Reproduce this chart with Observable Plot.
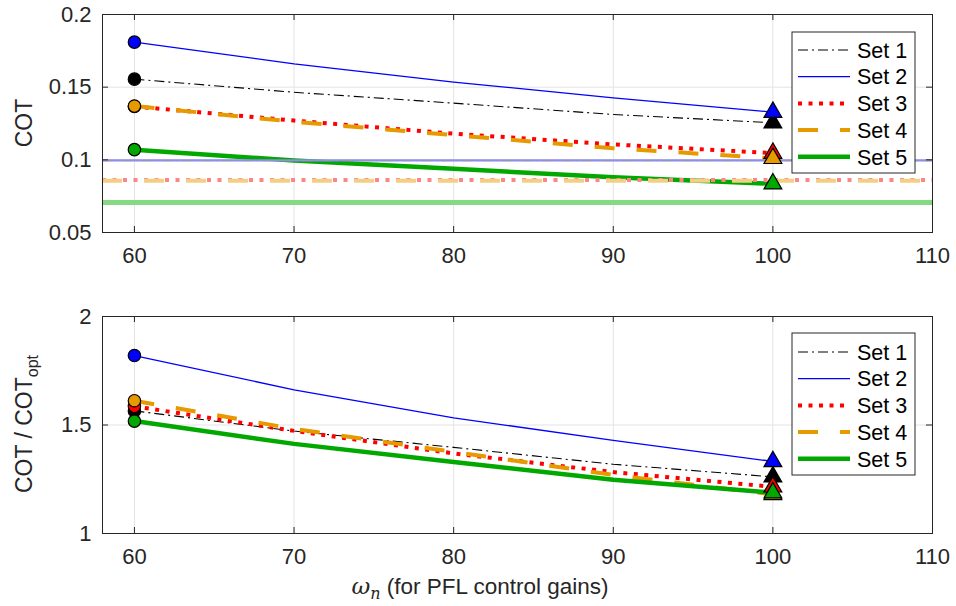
<!DOCTYPE html>
<html><head><meta charset="utf-8">
<script src="https://cdn.jsdelivr.net/npm/d3@7"></script>
<script src="https://cdn.jsdelivr.net/npm/@observablehq/plot@0.6"></script>
<style>
body{margin:0;background:#fff;}
#wrap{position:relative;width:956px;height:606px;font-family:"Liberation Sans",Arial,sans-serif;overflow:hidden;}
#wrap svg{position:absolute;left:0;}
</style></head><body><div id="wrap"></div>
<script>
// ---------- data ----------
const omega = [60, 70, 80, 90, 100];
const seriesNames = ["Set 1", "Set 2", "Set 3", "Set 4", "Set 5"];
const cotSet1 = [0.1555, 0.1465, 0.139, 0.1312, 0.1255];
const cotSet2 = [0.181, 0.166, 0.1535, 0.1427, 0.1328];
const cotSet3 = [0.1367, 0.127, 0.118, 0.1106, 0.1046];
const cotSet4 = [0.137, 0.1262, 0.117, 0.108, 0.101];
const cotSet5 = [0.107, 0.0995, 0.0938, 0.088, 0.0835];
const cotOpt = [0.0994, 0.0996, 0.0862, 0.0856, 0.0706];
const ratioSet1 = [1.565, 1.472, 1.397, 1.319, 1.261];
const ratioSet2 = [1.82, 1.662, 1.533, 1.429, 1.332];
const ratioSet3 = [1.586, 1.473, 1.369, 1.283, 1.215];
const ratioSet4 = [1.612, 1.482, 1.376, 1.27, 1.18];
const ratioSet5 = [1.518, 1.413, 1.33, 1.248, 1.188];
const xTicks = [60, 70, 80, 90, 100, 110];
const xDomain = [58, 110];
const topYTicks = [0.05, 0.1, 0.15, 0.2];
const botYTicks = [1, 1.5, 2];

// ---------- styles ----------
const colors = ["#000000", "#0000ff", "#ff0000", "#e69a00", "#00a800"];
const lightColors = ["#9a9a9a", "#8c8cf2", "#ff8585", "#f3cf85", "#85d985"];
const widths = [1.1, 1.3, 4, 4, 4.5];
const dashes = ["10,4,2,4", null, "4,6.5", "20,22", null];
const lightWidths = [1.2, 2.2, 4, 4, 5];

const cotSeries = [cotSet1, cotSet2, cotSet3, cotSet4, cotSet5];
const ratioSeries = [ratioSet1, ratioSet2, ratioSet3, ratioSet4, ratioSet5];

const W = 956, ML = 102, MR = 24;
const innerW = W - ML - MR;
const font = '"Liberation Sans", Arial, sans-serif';

function makePlot(series, yTicks, yDomain, opts) {
  const {height, marginTop, marginBottom, withOpt} = opts;
  const innerH = height - marginTop - marginBottom;
  const marks = [];
  marks.push(Plot.gridX(xTicks, {stroke: "#e3e3e3", strokeOpacity: 1}));
  marks.push(Plot.gridY(yTicks, {stroke: "#e3e3e3", strokeOpacity: 1}));
  const rowsBy = series.map((vals, i) => omega.map((x, j) => ({x, y: vals[j], s: seriesNames[i]})));
  rowsBy.forEach((rows, i) => {
    marks.push(Plot.line(rows, {x: "x", y: "y", stroke: colors[i], strokeWidth: widths[i],
      strokeDasharray: dashes[i], strokeLinecap: "butt", strokeLinejoin: "round"}));
  });
  if (withOpt) {
    [1, 0, 2, 3, 4].forEach(i => {
      marks.push(Plot.ruleY([cotOpt[i]], {stroke: lightColors[i], strokeWidth: lightWidths[i],
        strokeDasharray: dashes[i], strokeOpacity: i === 0 ? 0.6 : 1}));
    });
  }
  rowsBy.forEach((rows, i) => {
    marks.push(Plot.dot([rows[0]], {x: "x", y: "y", symbol: "circle", r: 6.2, fill: colors[i], stroke: "#000", strokeWidth: 1.2}));
  });
  rowsBy.forEach((rows, i) => {
    marks.push(Plot.dot([rows[rows.length - 1]], {x: "x", y: "y", symbol: "triangle", r: 6.6, fill: colors[i], stroke: "#000", strokeWidth: 1.2}));
  });
  marks.push(Plot.tickX(xTicks, {x: d => d, stroke: "#262626", insetTop: innerH - 6}));
  marks.push(Plot.tickX(xTicks, {x: d => d, stroke: "#262626", insetBottom: innerH - 6}));
  marks.push(Plot.tickY(yTicks, {y: d => d, stroke: "#262626", insetRight: innerW - 6}));
  marks.push(Plot.tickY(yTicks, {y: d => d, stroke: "#262626", insetLeft: innerW - 6}));
  marks.push(Plot.frame({stroke: "#262626", strokeWidth: 1}));
  marks.push(Plot.axisX(xTicks, {tickSize: 0, tickPadding: 15, tickFormat: d => String(d), fontSize: 22, fill: "#262626", label: null}));
  marks.push(Plot.axisY(yTicks, {tickSize: 0, tickPadding: 11, tickFormat: d => String(d), fontSize: 22, fill: "#262626", label: null}));
  return Plot.plot({
    width: W, height, marginLeft: ML, marginRight: MR, marginTop, marginBottom,
    style: {fontFamily: font, background: "transparent", overflow: "visible"},
    x: {domain: xDomain},
    y: {domain: yDomain},
    marks
  });
}

const wrap = document.getElementById("wrap");
const topChart = makePlot(cotSeries, topYTicks, [0.05, 0.2], {height: 290, marginTop: 14, marginBottom: 58, withOpt: true});
topChart.style.top = "0px";
wrap.appendChild(topChart);
const botChart = makePlot(ratioSeries, botYTicks, [1, 2], {height: 316, marginTop: 26, marginBottom: 73, withOpt: false});
botChart.style.top = "290px";
wrap.appendChild(botChart);

const ov = d3.select(wrap).append("svg").attr("width", W).attr("height", 606)
  .style("top", "0px").style("pointer-events", "none")
  .style("font-family", font);

function legend(x0, y0, w, h, firstRow, step) {
  const g = ov.append("g");
  g.append("rect").attr("x", x0).attr("y", y0).attr("width", w).attr("height", h)
    .attr("fill", "#fff").attr("stroke", "#262626").attr("stroke-width", 1);
  seriesNames.forEach((name, i) => {
    const y = firstRow + i * step;
    g.append("line").attr("x1", x0 + 6).attr("x2", x0 + 58).attr("y1", y).attr("y2", y)
      .attr("stroke", colors[i]).attr("stroke-width", widths[i])
      .attr("stroke-dasharray", dashes[i]);
    g.append("text").attr("x", x0 + 65).attr("y", y).attr("dy", "0.36em")
      .attr("font-size", 21.5).attr("fill", "#000").text(name);
  });
}
legend(792, 32, 123, 141, 50, 26.7);
legend(792, 333, 123, 142, 352, 26.7);

ov.append("text").attr("transform", "translate(32,123) rotate(-90)")
  .attr("text-anchor", "middle").attr("font-size", 23).attr("fill", "#262626").text("COT");
const yl2 = ov.append("text").attr("transform", "translate(32,424) rotate(-90)")
  .attr("text-anchor", "middle").attr("font-size", 23).attr("fill", "#262626");
yl2.append("tspan").text("COT / COT");
yl2.append("tspan").attr("font-size", 16).attr("dy", 6).text("opt");

const xl = ov.append("text").attr("x", 480).attr("y", 594).attr("text-anchor", "middle")
  .attr("font-size", 22.5).attr("fill", "#262626");
xl.append("tspan").attr("font-family", '"DejaVu Serif", serif').attr("font-style", "italic").attr("font-size", 23).text("ω");
xl.append("tspan").attr("font-family", '"DejaVu Serif", serif').attr("font-style", "italic").attr("font-size", 16).attr("dy", 5).text("n");
xl.append("tspan").attr("dy", -5).text(" (for PFL control gains)");
</script>
</body></html>
